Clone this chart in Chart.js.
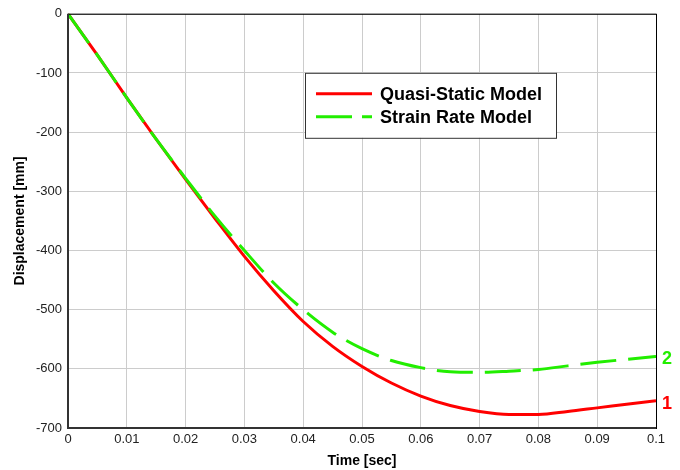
<!DOCTYPE html>
<html>
<head>
<meta charset="utf-8">
<script src="https://cdn.jsdelivr.net/npm/chart.js@4"></script>
<style>
  html, body { margin: 0; padding: 0; background: #fff; }
  #wrap { width: 680px; height: 470px; }
</style>
</head>
<body>
<div id="wrap"><canvas id="chart" width="680" height="470"></canvas></div>
<script>
// data
const times = [0, 0.005, 0.01, 0.015, 0.02, 0.025, 0.03, 0.035, 0.04, 0.045, 0.05,
  0.055, 0.06, 0.065, 0.07, 0.075, 0.08, 0.085, 0.09, 0.095, 0.1];
const quasiStatic = [0, -70, -142, -212, -280, -346, -410, -468, -520, -562, -596,
  -624, -646, -662, -672, -677, -677, -672, -666, -660, -654];
const strainRate = [0, -70, -142, -212, -278, -342, -400, -455, -500, -538, -566,
  -586, -598, -605, -606, -604, -601, -595, -589, -584, -579];
const seriesNames = ["Quasi-Static Model", "Strain Rate Model"];
const endLabels = ["1", "2"];

const FONT = "'Liberation Sans', Arial, sans-serif";

const toPoints = (ys) => ys.map((y, i) => ({ x: times[i], y: y }));

// black frame around the plot area
const framePlugin = {
  id: "frame",
  afterDraw(chart) {
    const { ctx, chartArea: a } = chart;
    ctx.save();
    ctx.strokeStyle = "#000";
    ctx.lineWidth = 1;
    ctx.strokeRect(a.left + 0.5, a.top + 0.5, a.right - a.left, a.bottom - a.top);
    ctx.lineWidth = 2;
    ctx.strokeStyle = "#333";
    ctx.beginPath();
    ctx.moveTo(a.left, a.top);
    ctx.lineTo(a.left, a.bottom);
    ctx.lineTo(a.right, a.bottom);
    ctx.stroke();
    ctx.restore();
  }
};

// "1" / "2" next to the end of each curve
const endLabelPlugin = {
  id: "endLabels",
  afterDraw(chart) {
    const { ctx } = chart;
    ctx.save();
    ctx.font = "bold 18px " + FONT;
    ctx.textBaseline = "middle";
    chart.data.datasets.forEach((ds, i) => {
      const meta = chart.getDatasetMeta(i);
      const last = meta.data[meta.data.length - 1];
      ctx.fillStyle = ds.borderColor;
      ctx.fillText(endLabels[i], last.x + 6, last.y + 3);
    });
    ctx.restore();
  }
};

// boxed legend inside the plot
const boxLegendPlugin = {
  id: "boxLegend",
  afterDraw(chart) {
    const { ctx, chartArea: a } = chart;
    const x = a.left + 237, y = a.top + 59, w = 251, h = 65;
    ctx.save();
    ctx.fillStyle = "#fff";
    ctx.fillRect(x, y, w, h);
    ctx.strokeStyle = "#333";
    ctx.lineWidth = 1;
    ctx.strokeRect(x + 0.5, y + 0.5, w, h);
    ctx.font = "bold 18px " + FONT;
    ctx.textBaseline = "middle";
    chart.data.datasets.forEach((ds, i) => {
      const ly = y + 21 + i * 23;
      ctx.strokeStyle = ds.borderColor;
      ctx.lineWidth = 3;
      ctx.setLineDash(i === 1 ? [36, 10] : []);
      ctx.beginPath();
      ctx.moveTo(x + 11, ly);
      ctx.lineTo(x + 67, ly);
      ctx.stroke();
      ctx.setLineDash([]);
      ctx.fillStyle = "#000";
      ctx.fillText(seriesNames[i], x + 75, ly + 1);
    });
    ctx.restore();
  }
};

new Chart(document.getElementById("chart"), {
  type: "line",
  data: {
    datasets: [
      {
        label: seriesNames[0],
        data: toPoints(quasiStatic),
        borderColor: "#ff0000",
        borderWidth: 3,
        pointRadius: 0,
        cubicInterpolationMode: "monotone",
        fill: false,
        order: 2
      },
      {
        label: seriesNames[1],
        data: toPoints(strainRate),
        borderColor: "#22ee00",
        borderWidth: 3,
        borderDash: [36, 12],
        pointRadius: 0,
        cubicInterpolationMode: "monotone",
        fill: false,
        order: 1
      }
    ]
  },
  options: {
    responsive: false,
    animation: false,
    layout: { padding: { top: 13, right: 24, left: 12, bottom: 0 } },
    plugins: {
      legend: { display: false },
      tooltip: { enabled: false }
    },
    scales: {
      x: {
        type: "linear",
        min: 0,
        max: 0.1,
        ticks: {
          stepSize: 0.01,
          color: "#222",
          font: { family: FONT, size: 13 },
          padding: 4,
          maxRotation: 0,
          callback: (v) => String(+v.toFixed(2))
        },
        grid: { color: "#cccccc", lineWidth: 1, drawTicks: false },
        border: { display: false },
        title: {
          display: true,
          text: "Time [sec]",
          color: "#000",
          font: { family: FONT, size: 14, weight: "bold" },
          padding: { top: 0, bottom: 0 }
        },
        afterFit(scale) { scale.height = 42; }
      },
      y: {
        type: "linear",
        min: -700,
        max: 0,
        ticks: {
          stepSize: 100,
          color: "#222",
          font: { family: FONT, size: 13 },
          padding: 6
        },
        grid: { color: "#cccccc", lineWidth: 1, drawTicks: false },
        border: { display: false },
        title: {
          display: true,
          text: "Displacement [mm]",
          color: "#000",
          font: { family: FONT, size: 14, weight: "bold" },
          padding: { top: 0, bottom: 0 }
        },
        afterFit(scale) { scale.width = 56; }
      }
    }
  },
  plugins: [framePlugin, boxLegendPlugin, endLabelPlugin]
});
</script>
</body>
</html>
